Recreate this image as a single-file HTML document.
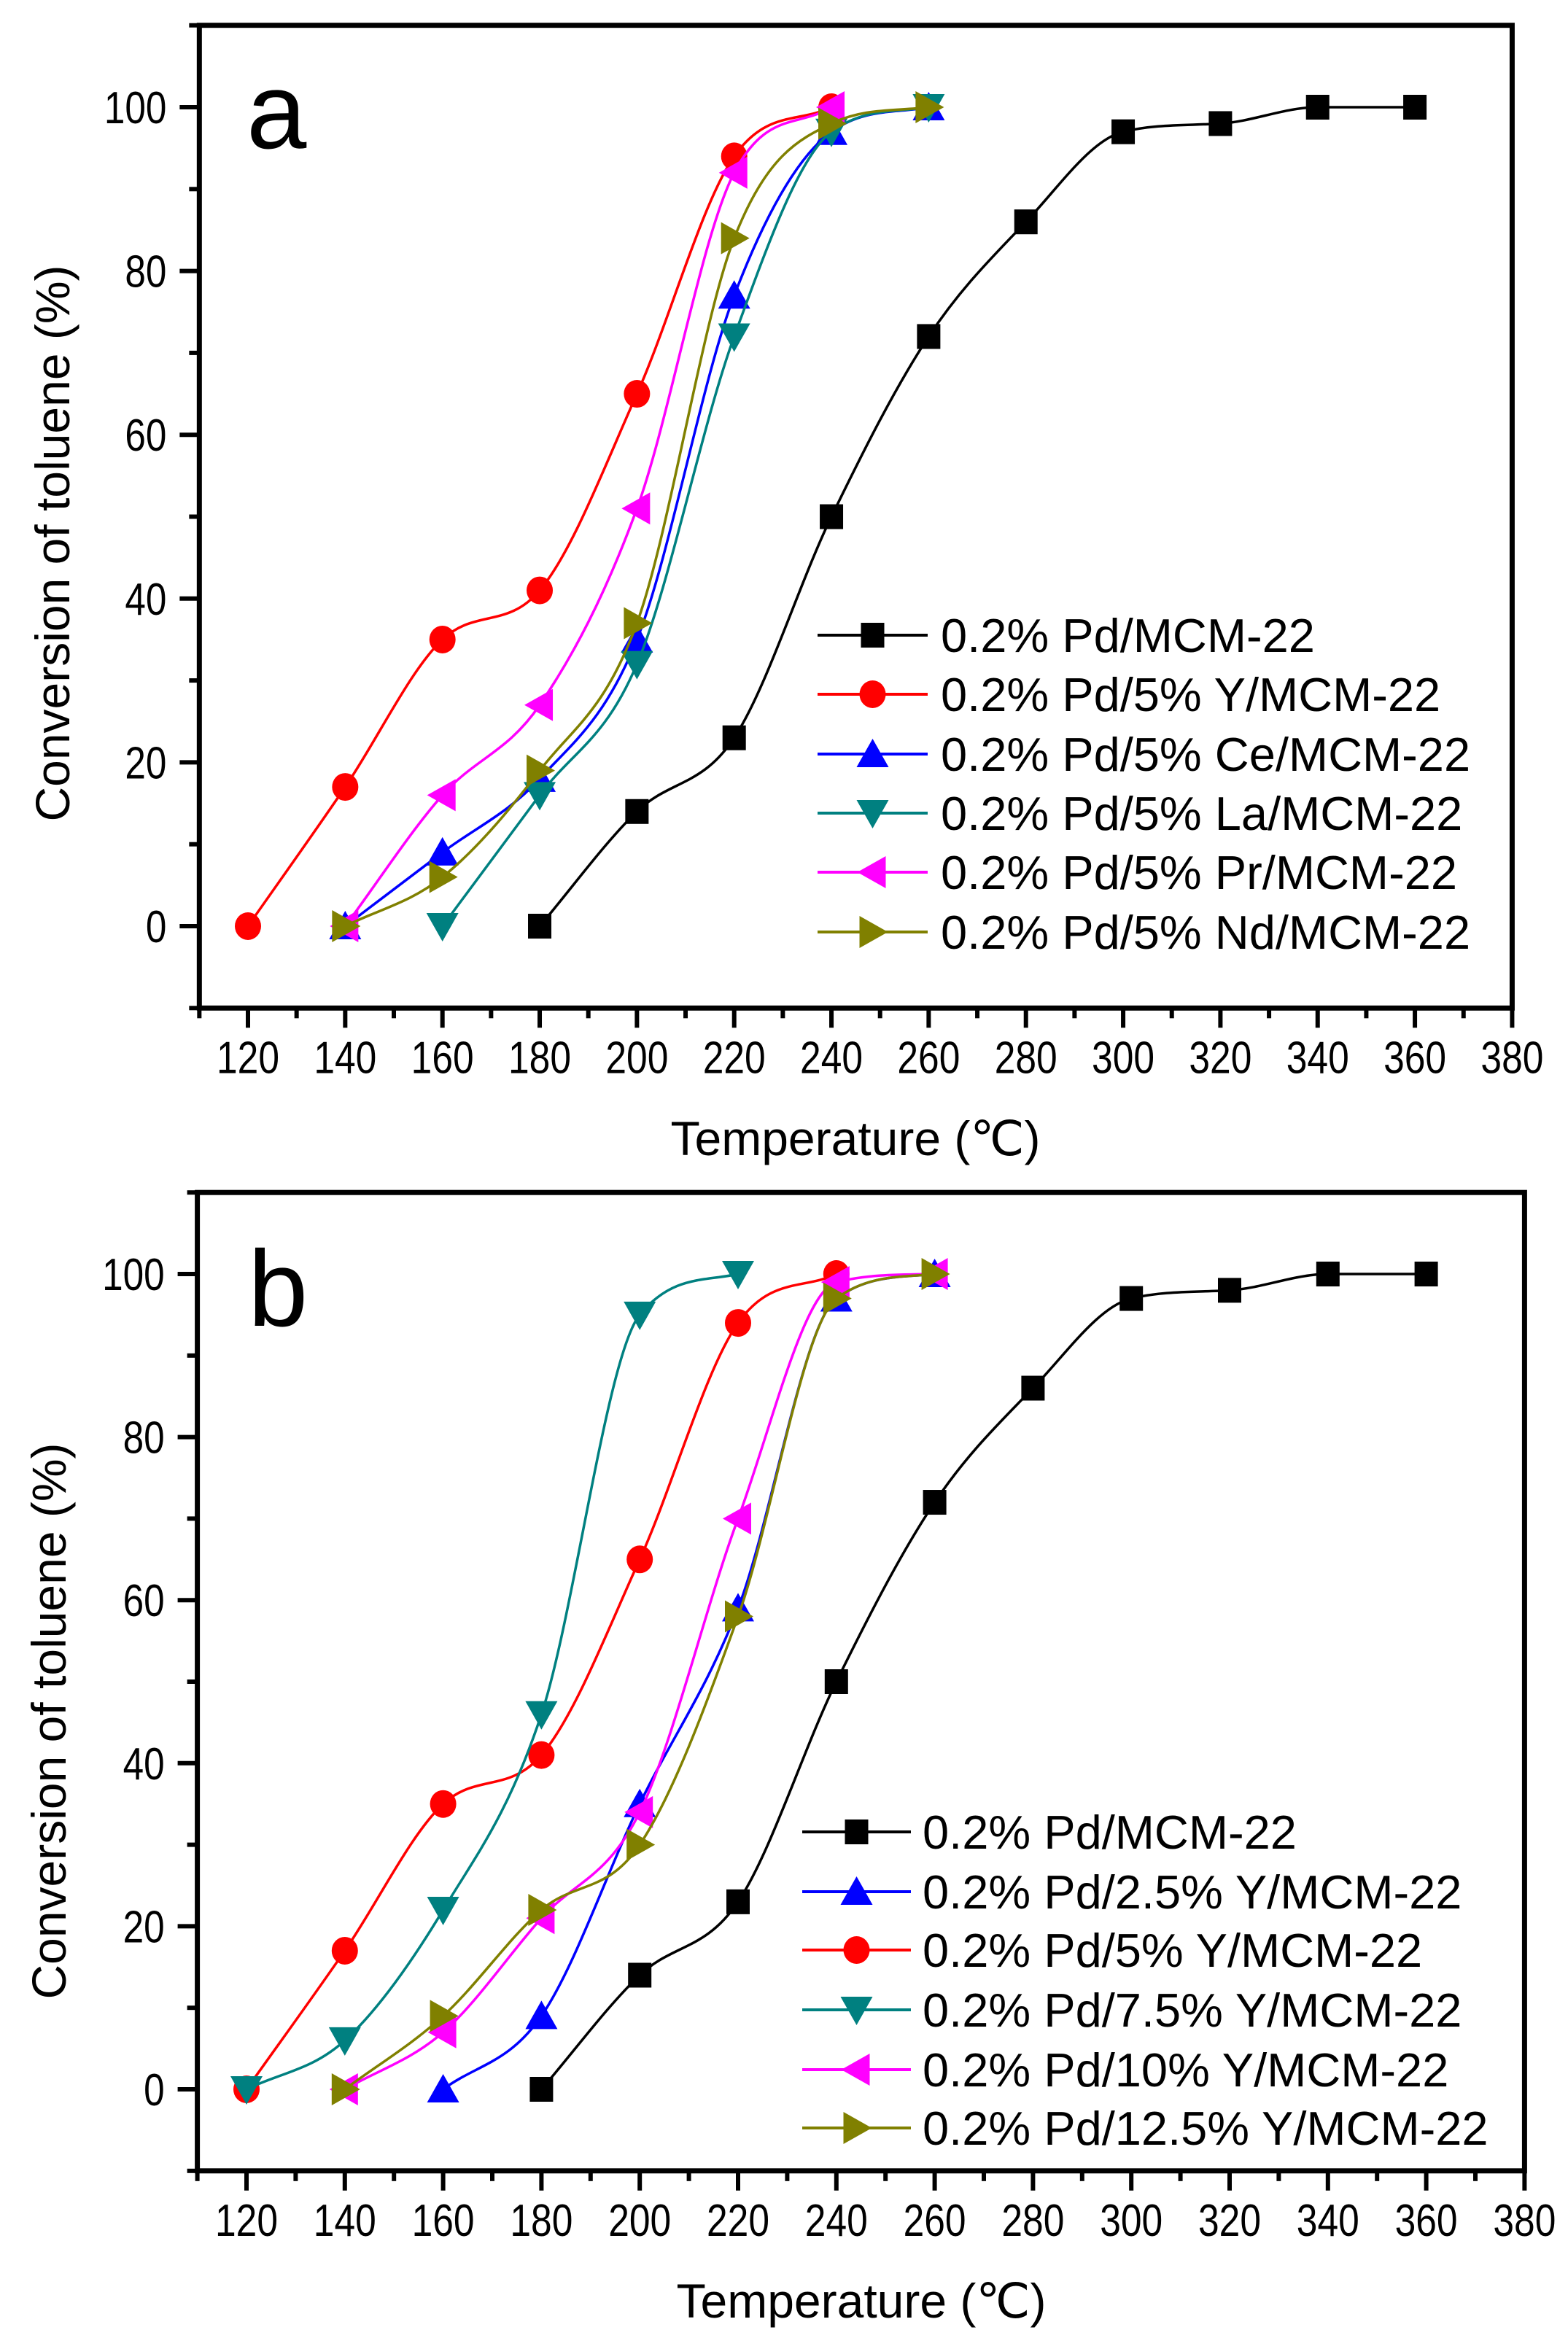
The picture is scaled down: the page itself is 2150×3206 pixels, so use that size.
<!DOCTYPE html>
<html><head><meta charset="utf-8"><style>
html,body{margin:0;padding:0;background:#fff;}
svg{display:block;}
text{font-family:"Liberation Sans",Arial,sans-serif;fill:#000;}
</style></head><body>
<svg id="s" xmlns="http://www.w3.org/2000/svg" width="2150" height="3206" viewBox="0 0 2150 3206"></svg>
<script>
var S=document.getElementById('s');var out='';
function mono(pts){
  var n=pts.length,dl=[],m=[];
  for(var i=0;i<n-1;i++)dl.push((pts[i+1][1]-pts[i][1])/(pts[i+1][0]-pts[i][0]));
  m[0]=dl[0];m[n-1]=dl[n-2];
  for(var i=1;i<n-1;i++){ if(dl[i-1]*dl[i]<=0)m[i]=0; else m[i]=(dl[i-1]+dl[i])/2; }
  for(var i=0;i<n-1;i++){
    if(dl[i]==0){m[i]=0;m[i+1]=0;continue;}
    var a=m[i]/dl[i],b=m[i+1]/dl[i],s=a*a+b*b;
    if(s>9){var t=3/Math.sqrt(s);m[i]=t*a*dl[i];m[i+1]=t*b*dl[i];}
  }
  var d='M'+pts[0][0]+','+pts[0][1];
  for(var i=0;i<n-1;i++){
    var h=(pts[i+1][0]-pts[i][0])/3;
    d+=' C'+(pts[i][0]+h)+','+(pts[i][1]+m[i]*h)+' '+(pts[i+1][0]-h)+','+(pts[i+1][1]-m[i+1]*h)+' '+pts[i+1][0]+','+pts[i+1][1];
  }
  return d;
}
function P(o){
  var X=function(t){return o.x0+(t-120)*o.dx;};
  var Y=function(v){return o.y0-v*o.dy;};
  var L=X(110),R=X(380),T=Y(110),B=Y(-10);
  var g='';
  for(var t=110;t<=380;t+=10){
    var maj=(t%20==0);var x=X(t);
    g+='<line x1="'+x+'" y1="'+B+'" x2="'+x+'" y2="'+(B+(maj?27:14))+'" stroke="#000" stroke-width="6"/>';
    if(maj) g+='<text x="'+x+'" y="'+(B+89)+'" font-size="62" text-anchor="middle" textLength="86" lengthAdjust="spacingAndGlyphs">'+t+'</text>';
  }
  for(var v=-10;v<=110;v+=10){
    var maj=(v%20==0)&&v>=0&&v<=100;var y=Y(v);
    g+='<line x1="'+L+'" y1="'+y+'" x2="'+(L-(maj?27:14))+'" y2="'+y+'" stroke="#000" stroke-width="6"/>';
    if(maj){var s=''+v;g+='<text x="'+(L-45)+'" y="'+(y+22)+'" font-size="62" text-anchor="end" textLength="'+(s.length*28.5)+'" lengthAdjust="spacingAndGlyphs">'+s+'</text>';}
  }
  g+='<rect x="'+L+'" y="'+T+'" width="'+(R-L)+'" height="'+(B-T)+'" fill="none" stroke="#000" stroke-width="7"/>';
  o.series.forEach(function(se){
    var pts=se.d.map(function(p){return [X(p[0]),Y(p[1])];});
    g+='<path d="'+mono(pts)+'" fill="none" stroke="'+se.c+'" stroke-width="3.5"/>';
    pts.forEach(function(p){g+=M(se.m,p[0],p[1],se.c);});
  });
  o.series.forEach(function(se,i){
    var y=o.ly[i];
    g+='<line x1="'+o.lx1+'" y1="'+y+'" x2="'+o.lx2+'" y2="'+y+'" stroke="'+se.c+'" stroke-width="4"/>';
    g+=M(se.m,(o.lx1+o.lx2)/2,y,se.c);
    g+='<text x="'+o.tx+'" y="'+(y+23)+'" font-size="65">'+se.n+'</text>';
  });
  g+='<text x="'+o.lab[0]+'" y="'+o.lab[1]+'" font-size="148">'+o.lab[2]+'</text>';
  g+='<text x="'+o.xt[0]+'" y="'+o.xt[1]+'" font-size="66" text-anchor="middle">Temperature (℃)</text>';
  g+='<text transform="translate('+o.yt[0]+','+o.yt[1]+') rotate(-90)" font-size="66" text-anchor="middle">Conversion of toluene (%)</text>';
  out+=g;
}
function M(m,x,y,c){
  if(m=='s') return '<rect x="'+(x-16)+'" y="'+(y-17)+'" width="32" height="34" fill="'+c+'"/>';
  if(m=='o') return '<ellipse cx="'+x+'" cy="'+y+'" rx="18" ry="19" fill="'+c+'"/>';
  var pts;
  if(m=='u') pts=[[x,y-21],[x-22,y+18],[x+22,y+18]];
  if(m=='d') pts=[[x,y+21],[x-22,y-18],[x+22,y-18]];
  if(m=='l') pts=[[x-21,y],[x+18,y-22],[x+18,y+22]];
  if(m=='r') pts=[[x+21,y],[x-18,y-22],[x-18,y+22]];
  return '<polygon points="'+pts.map(function(p){return p.join(',');}).join(' ')+'" fill="'+c+'"/>';
}
var K=[[180,0],[200,14],[220,23],[240,50],[260,72],[280,86],[300,97],[320,98],[340,100],[360,100]];
var RED=[[120,0],[140,17],[160,35],[180,41],[200,65],[220,94],[240,100]];
P({x0:340,dx:6.667,y0:1270,dy:11.23,lx1:1121,lx2:1272,tx:1290,ly:[871,952,1034,1115,1196,1278],
 lab:[338,203,'a'],xt:[1173,1584],yt:[95,745],
 series:[
 {n:'0.2% Pd/MCM-22',c:'#000',m:'s',d:K},
 {n:'0.2% Pd/5% Y/MCM-22',c:'#f00',m:'o',d:RED},
 {n:'0.2% Pd/5% Ce/MCM-22',c:'#00f',m:'u',d:[[140,0],[160,9],[180,18],[200,35],[220,77],[240,97],[260,100]]},
 {n:'0.2% Pd/5% La/MCM-22',c:'#008080',m:'d',d:[[160,0],[180,16],[200,32],[220,72],[240,97],[260,100]]},
 {n:'0.2% Pd/5% Pr/MCM-22',c:'#f0f',m:'l',d:[[140,0],[160,16],[180,27],[200,51],[220,92],[240,100]]},
 {n:'0.2% Pd/5% Nd/MCM-22',c:'#808000',m:'r',d:[[140,0],[160,6],[180,19],[200,37],[220,84],[240,98],[260,100]]}
 ]});
P({x0:338,dx:6.74,y0:2865,dy:11.18,lx1:1100,lx2:1249,tx:1265,ly:[2512,2594,2674,2756,2838,2918],
 lab:[340,1818,'b'],xt:[1181,3178],yt:[90,2360],
 series:[
 {n:'0.2% Pd/MCM-22',c:'#000',m:'s',d:K},
 {n:'0.2% Pd/2.5% Y/MCM-22',c:'#00f',m:'u',d:[[160,0],[180,9],[200,35],[220,59],[240,97],[260,100]]},
 {n:'0.2% Pd/5% Y/MCM-22',c:'#f00',m:'o',d:RED},
 {n:'0.2% Pd/7.5% Y/MCM-22',c:'#008080',m:'d',d:[[120,0],[140,6],[160,22],[180,46],[200,95],[220,100]]},
 {n:'0.2% Pd/10% Y/MCM-22',c:'#f0f',m:'l',d:[[140,0],[160,7],[180,21],[200,34],[220,70],[240,99],[260,100]]},
 {n:'0.2% Pd/12.5% Y/MCM-22',c:'#808000',m:'r',d:[[140,0],[160,9],[180,22],[200,30],[220,58],[240,97],[260,100]]}
 ]});
S.innerHTML=out;
</script>
</body></html>
